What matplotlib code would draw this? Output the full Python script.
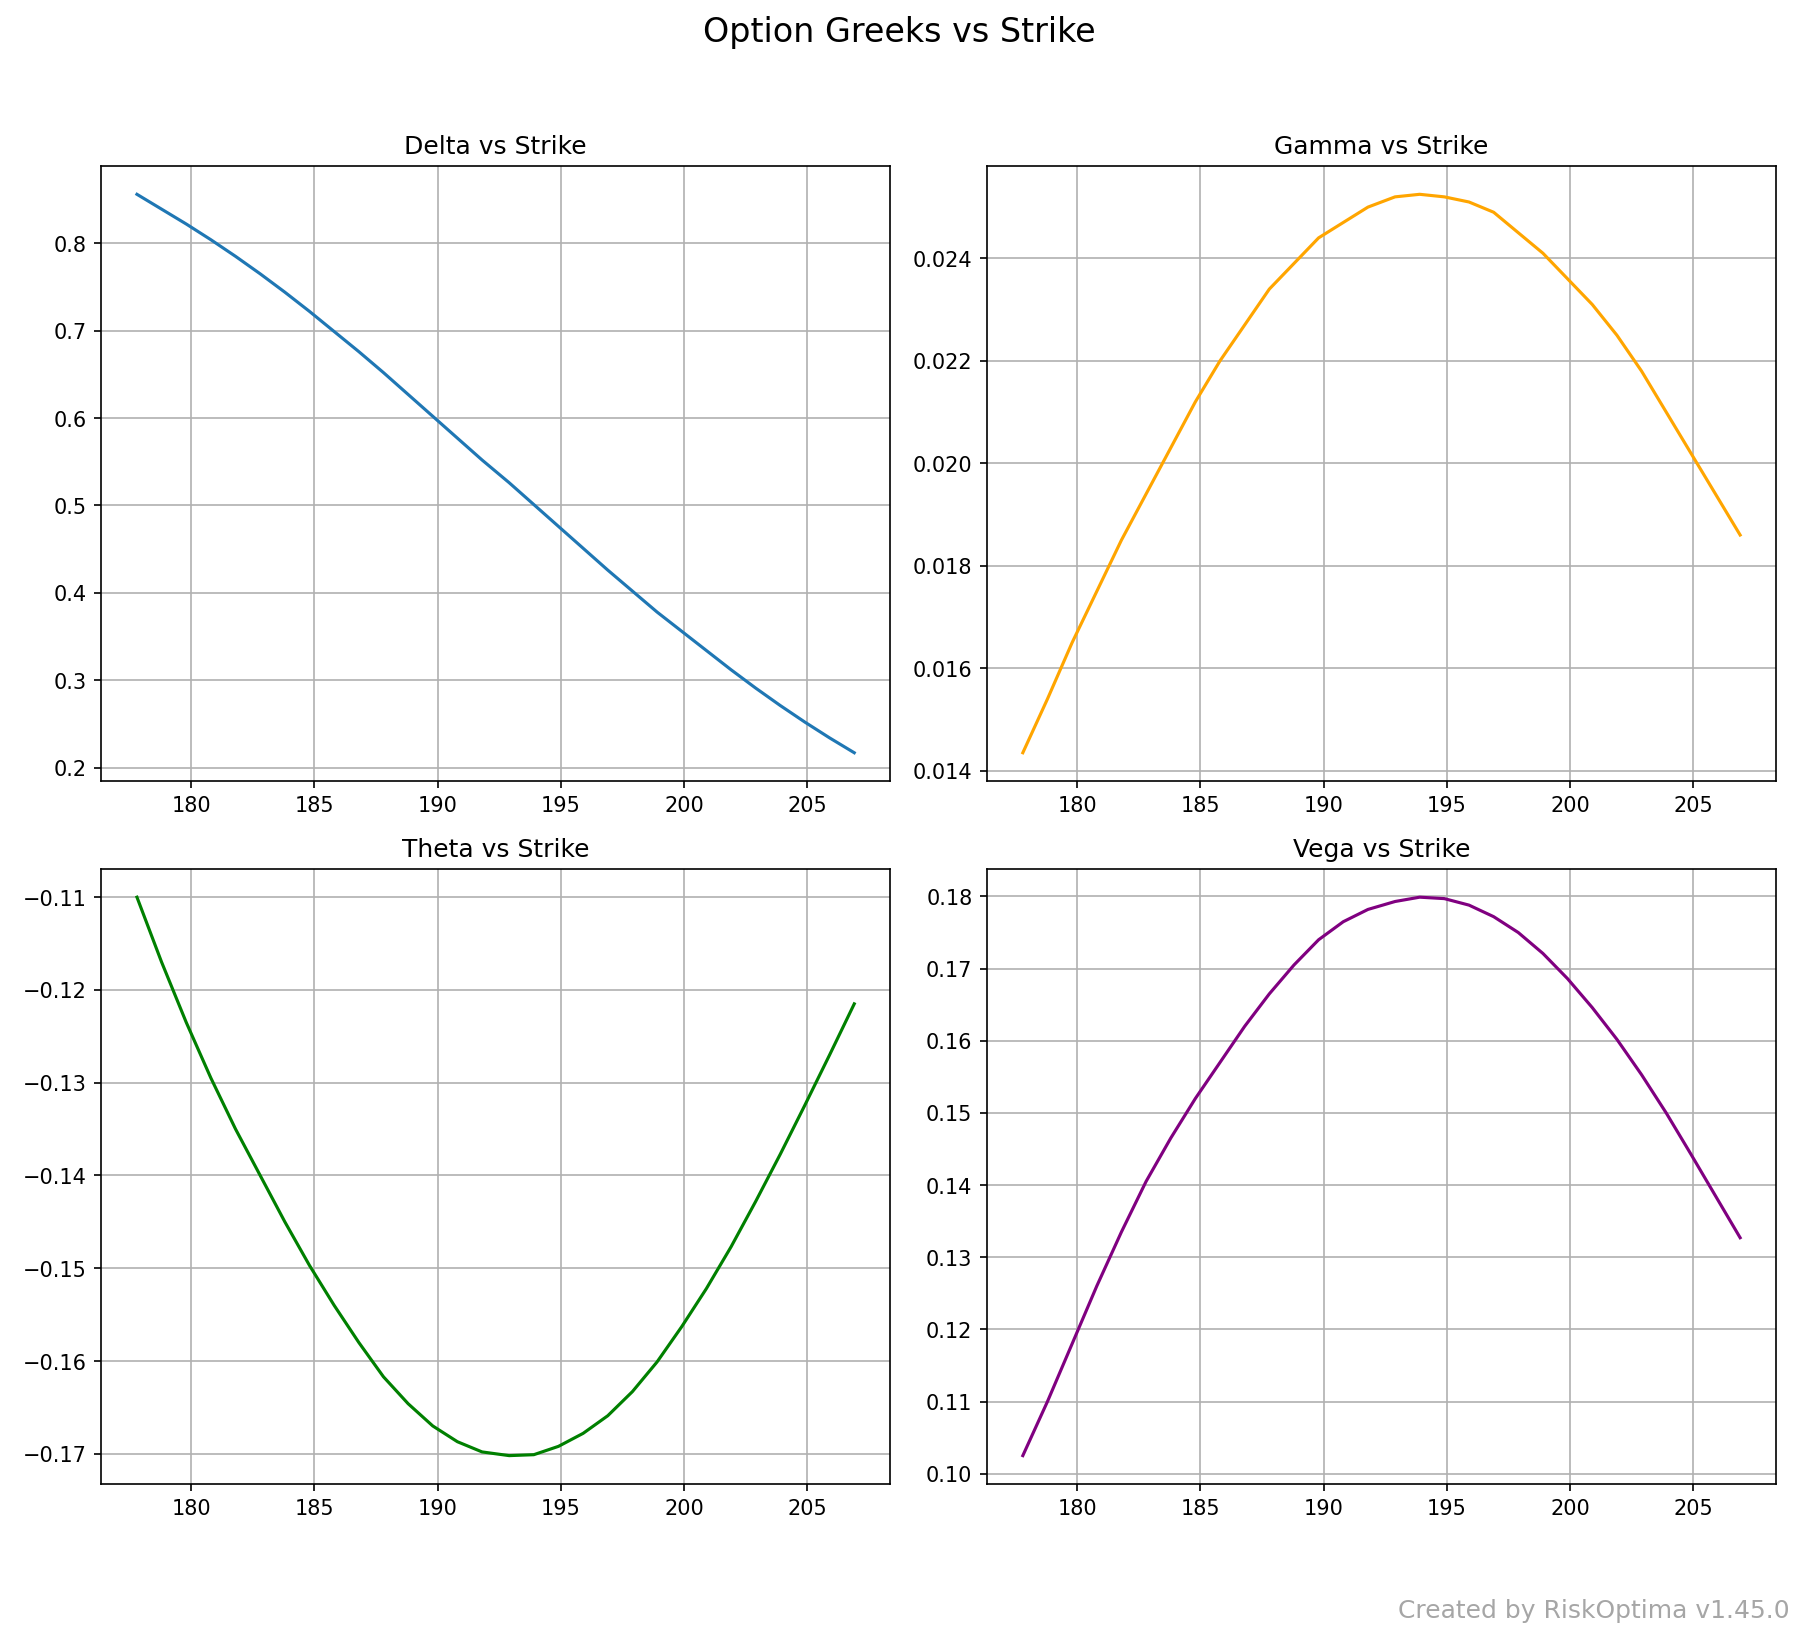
import matplotlib
matplotlib.use("Agg")
import matplotlib.pyplot as plt

strikes = [177.8, 178.8, 179.8, 180.8, 181.8, 182.8, 183.8, 184.8, 185.8, 186.8,
           187.8, 188.8, 189.8, 190.8, 191.8, 192.9, 193.9, 194.9, 195.9, 196.9,
           197.9, 198.9, 199.9, 200.9, 201.9, 202.9, 203.9, 204.9, 205.9, 206.9]
delta = [0.856, 0.839, 0.822, 0.804, 0.785, 0.765, 0.744, 0.722, 0.699, 0.676,
         0.652, 0.627, 0.602, 0.577, 0.552, 0.526, 0.501, 0.476, 0.451, 0.426,
         0.402, 0.378, 0.356, 0.334, 0.312, 0.291, 0.271, 0.252, 0.234, 0.217]
gamma = [0.01435, 0.0154, 0.0165, 0.0175, 0.0185, 0.0194, 0.0203, 0.0212, 0.0220, 0.0227,
         0.0234, 0.0239, 0.0244, 0.0247, 0.0250, 0.0252, 0.02525, 0.0252, 0.0251, 0.0249,
         0.0245, 0.0241, 0.0236, 0.0231, 0.0225, 0.0218, 0.0210, 0.0202, 0.0194, 0.0186]
theta = [-0.110, -0.117, -0.1235, -0.1295, -0.135, -0.140, -0.145, -0.1497, -0.154, -0.158,
         -0.1617, -0.1646, -0.167, -0.1687, -0.1698, -0.1702, -0.1701, -0.1692, -0.1678, -0.1659,
         -0.1633, -0.1601, -0.1563, -0.1522, -0.1477, -0.1428, -0.1377, -0.1324, -0.1270, -0.1215]
vega = [0.1025, 0.110, 0.118, 0.126, 0.1335, 0.1405, 0.1465, 0.152, 0.157, 0.162,
        0.1665, 0.1705, 0.174, 0.1765, 0.1782, 0.1793, 0.1799, 0.1797, 0.1788, 0.1772,
        0.1750, 0.1721, 0.1686, 0.1646, 0.1602, 0.1553, 0.1500, 0.1443, 0.1385, 0.1327]

panels = [("Delta vs Strike", delta, "tab:blue"),
          ("Gamma vs Strike", gamma, "orange"),
          ("Theta vs Strike", theta, "green"),
          ("Vega vs Strike", vega, "purple")]

fig, axes = plt.subplots(2, 2, figsize=(11.99, 10.93), dpi=150)
for ax, (title, vals, color) in zip(axes.flat, panels):
    ax.plot(strikes, vals, color=color)
    ax.set_title(title)
    ax.grid(True)

fig.suptitle("Option Greeks vs Strike", fontsize=16, y=0.99)
fig.text(0.995, 0.01, "Created by RiskOptima v1.45.0", ha="right", va="bottom",
         fontsize=12, color="grey", alpha=0.7)
plt.tight_layout(rect=[0, 0.06, 1, 0.965])
fig.savefig("out.png", dpi=150)
